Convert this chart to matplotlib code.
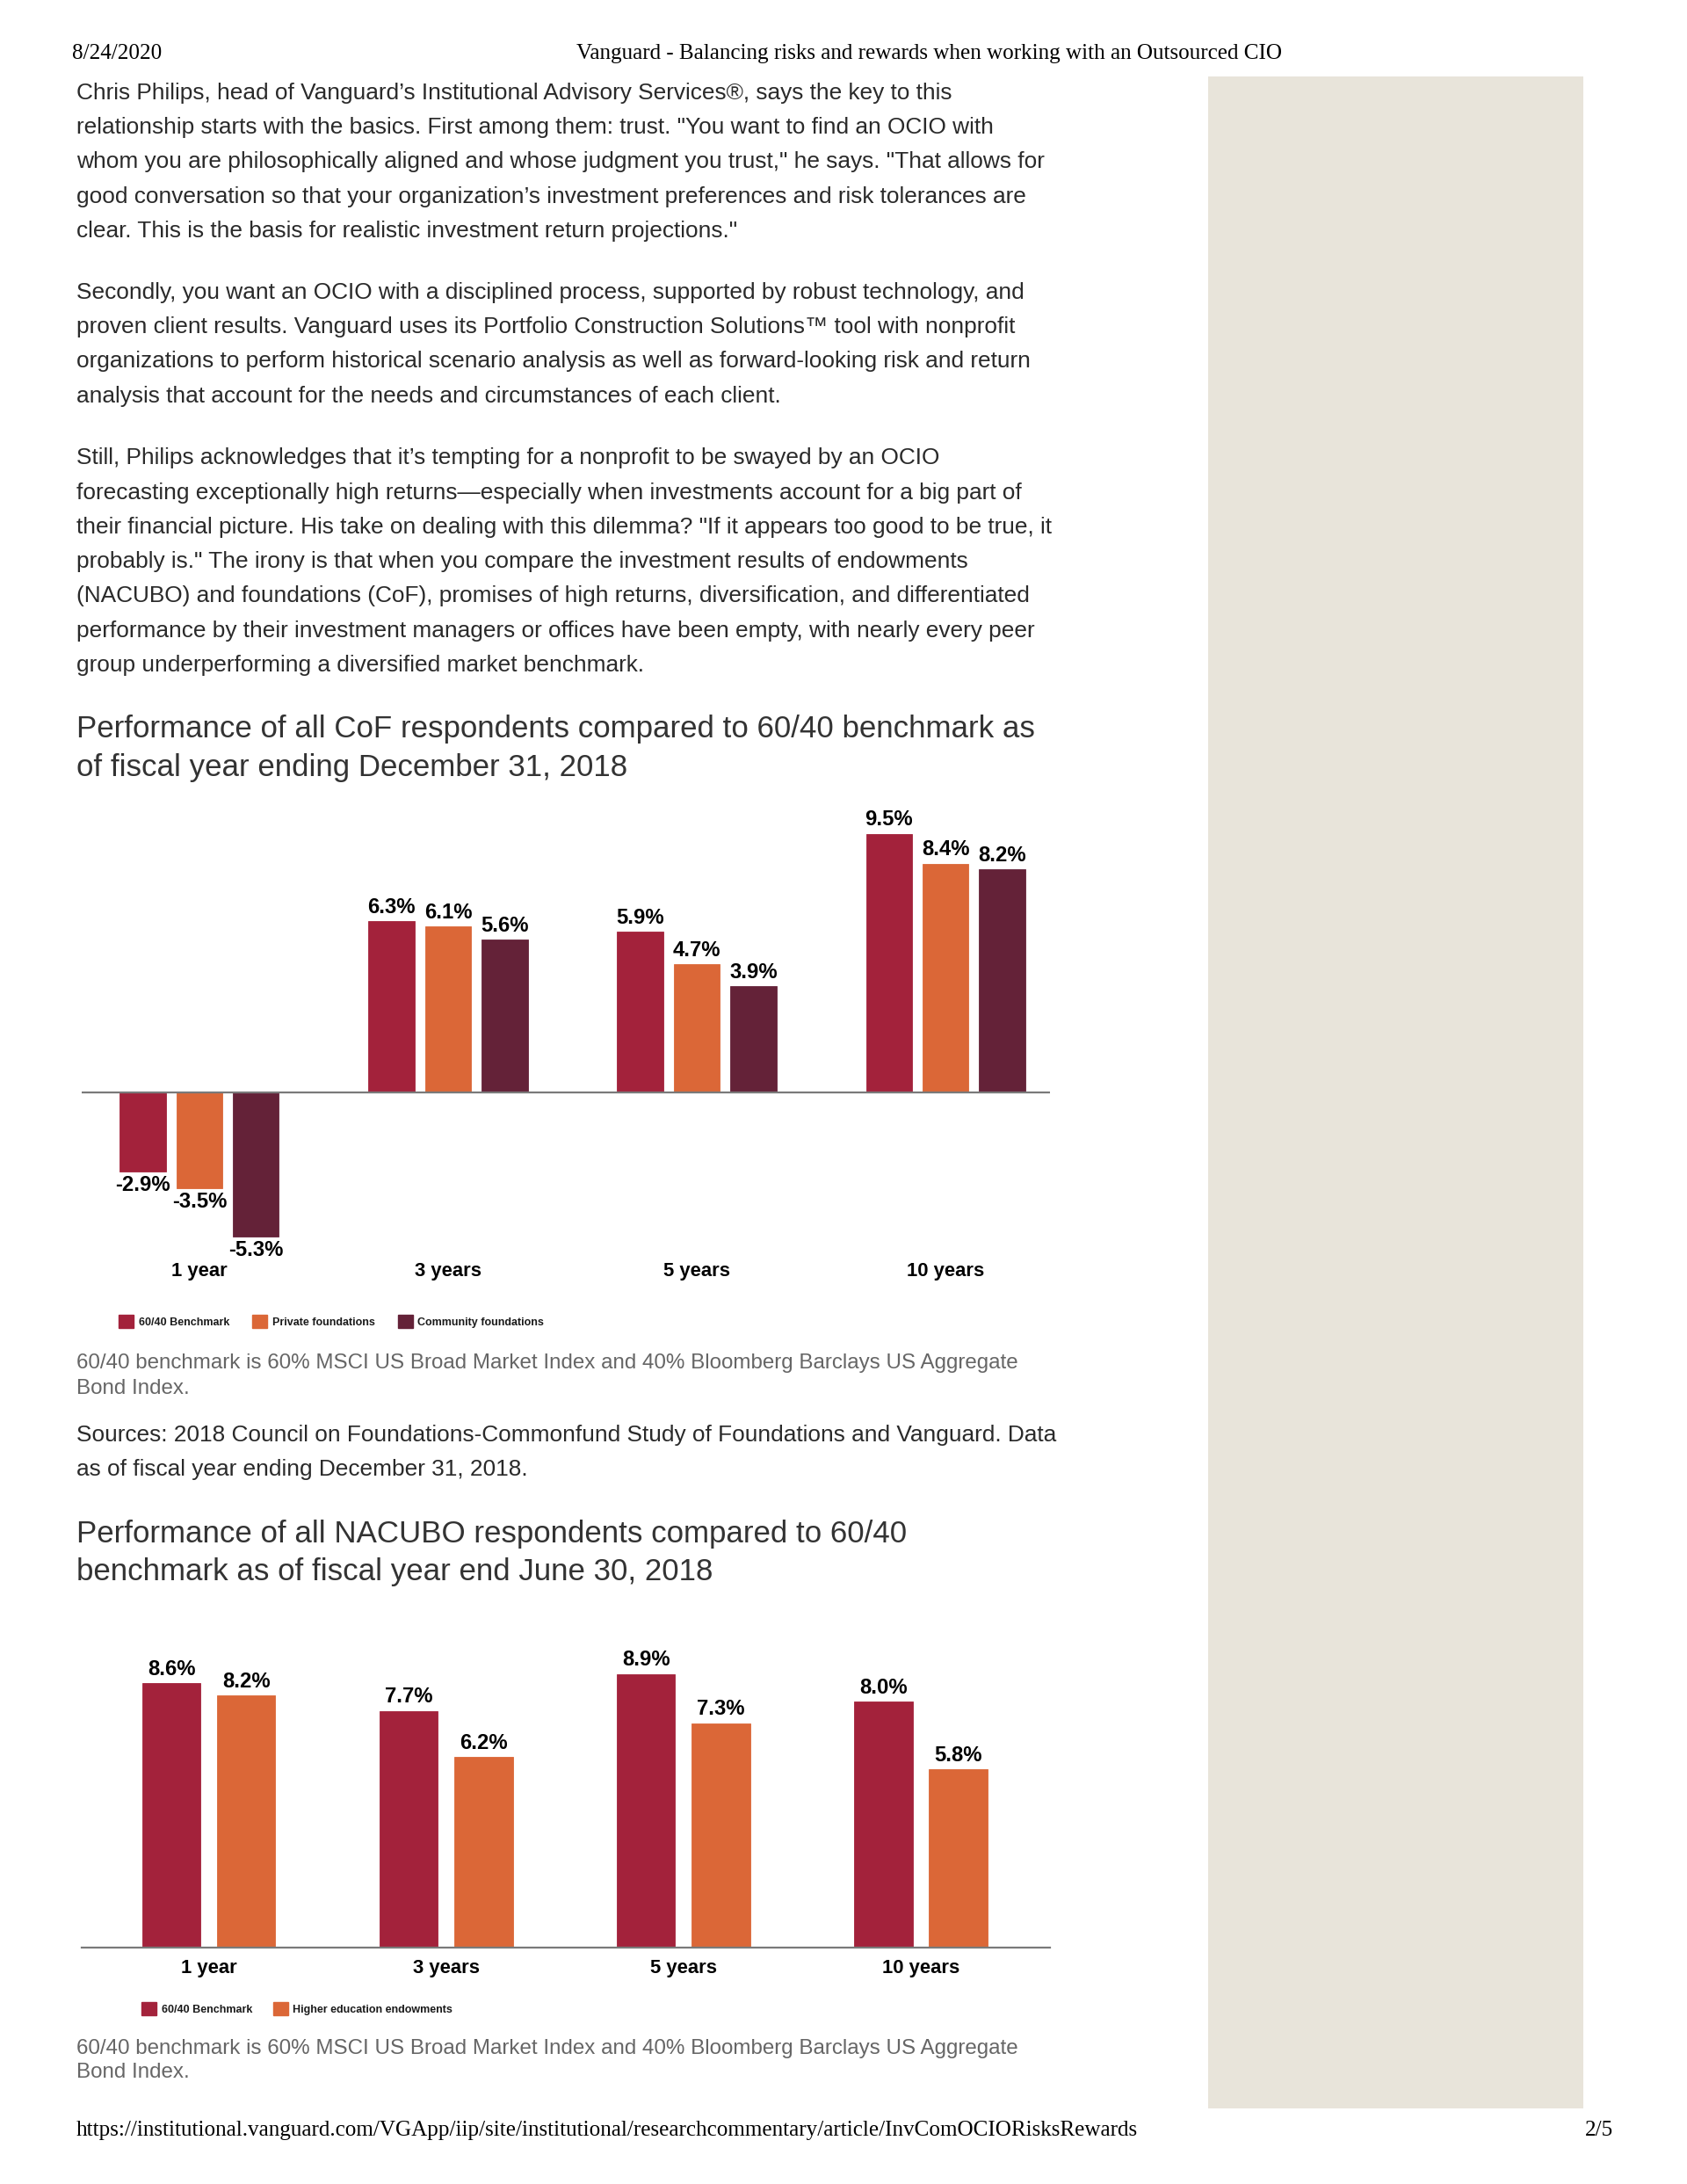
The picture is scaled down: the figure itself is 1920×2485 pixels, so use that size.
import matplotlib
matplotlib.use("Agg")
import matplotlib.pyplot as plt
import numpy as np
from matplotlib.patches import Patch, Rectangle

# ---------------- data ----------------
cof_periods = ["1 year", "3 years", "5 years", "10 years"]
cof_series = ["60/40 Benchmark", "Private foundations", "Community foundations"]
cof_benchmark = [-2.9, 6.3, 5.9, 9.5]
cof_private = [-3.5, 6.1, 4.7, 8.4]
cof_community = [-5.3, 5.6, 3.9, 8.2]

nacubo_periods = ["1 year", "3 years", "5 years", "10 years"]
nacubo_series = ["60/40 Benchmark", "Higher education endowments"]
nacubo_benchmark = [8.6, 7.7, 8.9, 8.0]
nacubo_endowments = [8.2, 6.2, 7.3, 5.8]

header_date = "8/24/2020"
header_title = "Vanguard - Balancing risks and rewards when working with an Outsourced CIO"
footer_url = "https://institutional.vanguard.com/VGApp/iip/site/institutional/researchcommentary/article/InvComOCIORisksRewards"
footer_page = "2/5"

para1 = [
    "Chris Philips, head of Vanguard\u2019s Institutional Advisory Services\u00ae, says the key to this",
    "relationship starts with the basics. First among them: trust. \"You want to find an OCIO with",
    "whom you are philosophically aligned and whose judgment you trust,\" he says. \"That allows for",
    "good conversation so that your organization\u2019s investment preferences and risk tolerances are",
    "clear. This is the basis for realistic investment return projections.\"",
]
para2 = [
    "Secondly, you want an OCIO with a disciplined process, supported by robust technology, and",
    "proven client results. Vanguard uses its Portfolio Construction Solutions\u2122 tool with nonprofit",
    "organizations to perform historical scenario analysis as well as forward-looking risk and return",
    "analysis that account for the needs and circumstances of each client.",
]
para3 = [
    "Still, Philips acknowledges that it\u2019s tempting for a nonprofit to be swayed by an OCIO",
    "forecasting exceptionally high returns\u2014especially when investments account for a big part of",
    "their financial picture. His take on dealing with this dilemma? \"If it appears too good to be true, it",
    "probably is.\" The irony is that when you compare the investment results of endowments",
    "(NACUBO) and foundations (CoF), promises of high returns, diversification, and differentiated",
    "performance by their investment managers or offices have been empty, with nearly every peer",
    "group underperforming a diversified market benchmark.",
]
title1 = ["Performance of all CoF respondents compared to 60/40 benchmark as",
          "of fiscal year ending December 31, 2018"]
caption1 = ["60/40 benchmark is 60% MSCI US Broad Market Index and 40% Bloomberg Barclays US Aggregate",
            "Bond Index."]
sources1 = ["Sources: 2018 Council on Foundations-Commonfund Study of Foundations and Vanguard. Data",
            "as of fiscal year ending December 31, 2018."]
title2 = ["Performance of all NACUBO respondents compared to 60/40",
          "benchmark as of fiscal year end June 30, 2018"]
caption2 = ["60/40 benchmark is 60% MSCI US Broad Market Index and 40% Bloomberg Barclays US Aggregate",
            "Bond Index."]

# ---------------- style ----------------
C_BENCH = "#A3223B"
C_PRIV = "#DB6737"
C_COMM = "#642238"
C_TEXT = "#2a2a2a"
C_GRAY = "#666666"
C_SIDE = "#E8E4DA"
SANS = ["Liberation Sans", "DejaVu Sans"]
SERIF = ["Liberation Serif", "DejaVu Serif"]

W, H = 1920, 2485
fig = plt.figure(figsize=(W / 100, H / 100), dpi=100)
fig.patch.set_facecolor("white")


def ftext(xpx, ypx, s, **kw):
    return fig.text(xpx / W, 1 - ypx / H, s, **kw)


def lines(x, y0, step, rows, **kw):
    for i, s in enumerate(rows):
        ftext(x, y0 + i * step, s, va="center", ha="left", **kw)


# sidebar
fig.patches.append(Rectangle((1375 / W, 1 - 2399 / H), (1802 - 1375) / W, (2399 - 87) / H,
                             transform=fig.transFigure, facecolor=C_SIDE, edgecolor="none", zorder=0))

# header / footer
HDR = dict(family=SERIF, fontsize=18.1, color="black", va="center")
ftext(82, 61, header_date, ha="left", **HDR)
ftext(1058, 61, header_title, ha="center", **HDR)
ftext(87, 2424, footer_url, ha="left", **HDR)
ftext(1836, 2424, footer_page, ha="right", **HDR)

BODY = dict(family=SANS, fontsize=18.9, color=C_TEXT)
lines(87, 106, 39.2, para1, **BODY)
lines(87, 333, 39.2, para2, **BODY)
lines(87, 521.5, 39.2, para3, **BODY)

TITLE = dict(family=SANS, fontsize=25.1, color="#333333")
lines(87, 829, 44.4, title1, **TITLE)
lines(87, 1746, 42.8, title2, **TITLE)

CAP = dict(family=SANS, fontsize=17.4, color=C_GRAY)
lines(87, 1551, 28.6, caption1, **CAP)
lines(87, 1633, 38.5, sources1, **BODY)
lines(87, 2331, 27.5, caption2, **CAP)


def style_axes(ax):
    for sp in ax.spines.values():
        sp.set_visible(False)
    ax.set_yticks([])
    ax.tick_params(axis="x", length=0)
    ax.set_facecolor("none")


LBL = dict(fontsize=17.2, fontweight="bold", family=SANS, color="black")

# ---------------- chart 1 ----------------
ax1 = fig.add_axes([93 / W, 1 - 1425 / H, (1195 - 93) / W, (1425 - 920) / H])
style_axes(ax1)
x1 = np.arange(len(cof_periods))
pitch1, width1 = 0.227, 0.186
colors1 = [C_BENCH, C_PRIV, C_COMM]
for i, (vals, col) in enumerate(zip([cof_benchmark, cof_private, cof_community], colors1)):
    bars = ax1.bar(x1 + (i - 1) * pitch1, vals, width1, color=col, edgecolor=col, linewidth=0.6,
                   zorder=2)
    ax1.bar_label(bars, labels=[f"{v:.1f}%" for v in vals], padding=3, **LBL)
ax1.axhline(0, color="#7a7a7a", lw=1.6, zorder=3)
ax1.set_xlim(-0.473, 3.42)
ax1.set_ylim(-5.87, 10.42)
ax1.set_xticks(x1, cof_periods, fontsize=15.8, fontweight="bold", family=SANS, color="black")
ax1.tick_params(axis="x", pad=8)
leg1 = fig.legend(handles=[Patch(facecolor=c, edgecolor=c, label=l) for c, l in zip(colors1, cof_series)],
                  loc="center left", bbox_to_anchor=(135 / W, 1 - 1503.5 / H),
                  bbox_transform=fig.transFigure, ncol=3, frameon=False,
                  prop=dict(family=SANS, size=9, weight="bold"),
                  handlelength=1.36, handleheight=1.36, handletextpad=0.44,
                  columnspacing=2.1, borderpad=0, borderaxespad=0)
for t in leg1.get_texts():
    t.set_color("#1a1a1a")

# ---------------- chart 2 ----------------
ax2 = fig.add_axes([93 / W, 1 - 2216 / H, (1195 - 93) / W, (2216 - 1830) / H])
style_axes(ax2)
x2 = np.arange(len(nacubo_periods))
pitch2, width2 = 0.315, 0.246
colors2 = [C_BENCH, C_PRIV]
for i, (vals, col) in enumerate(zip([nacubo_benchmark, nacubo_endowments], colors2)):
    bars = ax2.bar(x2 + (i - 0.5) * pitch2, vals, width2, color=col, edgecolor=col, linewidth=0.6,
                   zorder=2)
    ax2.bar_label(bars, labels=[f"{v:.1f}%" for v in vals], padding=3, **LBL)
ax2.axhline(0, color="#7a7a7a", lw=1.6, zorder=3, clip_on=False)
ax2.set_xlim(-0.536, 3.545)
ax2.set_ylim(0, 11.03)
ax2.set_xticks(x2, nacubo_periods, fontsize=15.8, fontweight="bold", family=SANS, color="black")
ax2.tick_params(axis="x", pad=9)
leg2 = fig.legend(handles=[Patch(facecolor=c, edgecolor=c, label=l) for c, l in zip(colors2, nacubo_series)],
                  loc="center left", bbox_to_anchor=(161 / W, 1 - 2285.5 / H),
                  bbox_transform=fig.transFigure, ncol=2, frameon=False,
                  prop=dict(family=SANS, size=9, weight="bold"),
                  handlelength=1.36, handleheight=1.36, handletextpad=0.44,
                  columnspacing=1.9, borderpad=0, borderaxespad=0)
for t in leg2.get_texts():
    t.set_color("#1a1a1a")

fig.savefig("out.png", dpi=100, facecolor="white")
